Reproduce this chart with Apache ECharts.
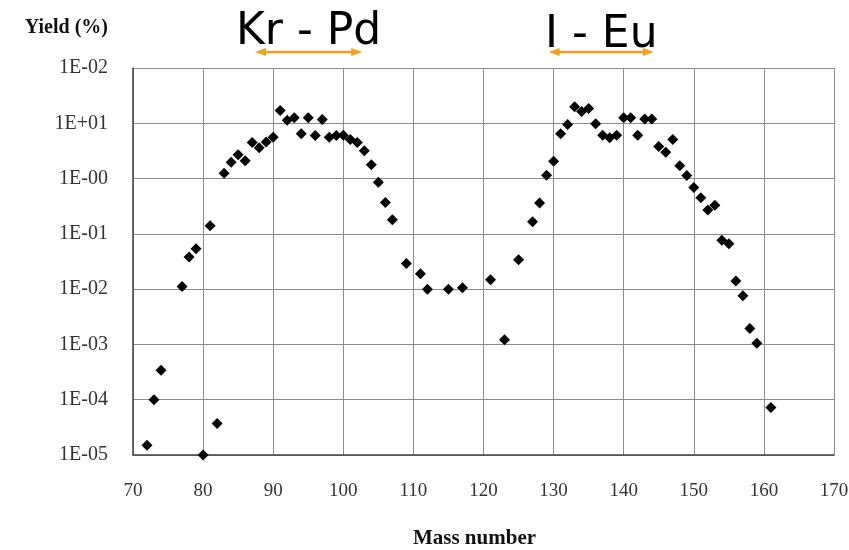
<!DOCTYPE html>
<html>
<head>
<meta charset="utf-8">
<script src="https://cdn.jsdelivr.net/npm/echarts@6/dist/echarts.min.js"></script>
<style>
html,body{margin:0;padding:0;background:#fff;}
#chart{width:849px;height:550px;}
</style>
</head>
<body>
<div id="chart"></div>
<script>
const massNumbers = [72,73,74,77,78,79,80,81,82,
  83,84,85,86,87,88,89,90,91,92,93,94,95,96,97,98,99,100,101,102,103,104,105,106,107,
  109,111,112,115,117,121,123,125,
  127,128,129,130,131,132,133,134,135,136,137,138,139,140,141,142,143,144,145,146,147,148,149,150,151,152,153,154,155,156,157,158,159,
  161];
const yields = [1.5e-5,1.0e-4,3.4e-4,0.0112,0.038,0.054,1.0e-5,0.14,3.7e-5,
  1.25,1.97,2.7,2.1,4.5,3.6,4.6,5.6,17,11.3,12.6,6.5,12.6,6.0,11.7,5.6,6.0,6.1,5.1,4.5,3.2,1.78,0.86,0.37,0.18,
  0.029,0.019,0.010,0.010,0.0106,0.0148,0.00122,0.034,
  0.166,0.36,1.15,2.05,6.5,9.5,20,16.4,18.6,9.8,6.1,5.5,6.1,12.6,12.6,6.1,11.9,11.9,3.8,3.0,5.1,1.7,1.14,0.69,0.45,0.27,0.33,0.077,0.066,0.014,0.0076,0.00195,0.00105,
  7.2e-5];
const yTickLabels = ['1E-05','1E-04','1E-03','1E-02','1E-01','1E-00','1E+01','1E-02'];
const xTicks = [70,80,90,100,110,120,130,140,150,160,170];
const ranges = [
  {label:'Kr - Pd', from:87.4, to:102.7},
  {label:'I - Eu', from:129.3, to:144.3}
];

const chart = echarts.init(document.getElementById('chart'));
const serif = 'Liberation Serif';
chart.setOption({
  animation:false,
  backgroundColor:'#fff',
  grid:{left:133, top:68, right:15, bottom:95, containLabel:false, outerBoundsMode:'none'},
  xAxis:{
    type:'value', min:xTicks[0], max:xTicks[xTicks.length-1], interval:10,
    name:'Mass number', nameLocation:'middle', nameGap:73,
    nameTextStyle:{fontFamily:serif, fontWeight:'bold', fontSize:21, color:'#111', padding:[0,18,0,0]},
    axisLine:{show:true, lineStyle:{color:'#444', width:1.5}},
    axisTick:{show:false},
    axisLabel:{fontFamily:serif, fontSize:19, color:'#333', margin:27},
    splitLine:{show:true, lineStyle:{color:'#8c8c8c', width:1}}
  },
  yAxis:{
    type:'log', logBase:10, min:1e-5, max:1e2, splitNumber:7,
    name:'Yield (%)', nameLocation:'end', nameGap:30,
    nameTextStyle:{fontFamily:serif, fontWeight:'bold', fontSize:20, color:'#111', align:'right', padding:[0,25,0,0]},
    axisLine:{show:true, lineStyle:{color:'#444', width:1.5}},
    axisTick:{show:false},
    axisLabel:{fontFamily:serif, fontSize:20, color:'#333', margin:25,
      formatter:function(v){const i=Math.round(Math.log10(v))+5; return yTickLabels[i]!==undefined?yTickLabels[i]:'';}},
    splitLine:{show:true, lineStyle:{color:'#8c8c8c', width:1}}
  },
  series:[{
    type:'scatter', symbol:'diamond', symbolSize:11, clip:false,
    itemStyle:{color:'#000', opacity:1},
    data:massNumbers.map((m,i)=>[m,yields[i]])
  }]
});

const g = [];
const arrowY = 52, arrowColor = '#f5a11c';
const textYs = [33, 36];
ranges.forEach((r, k)=>{
  const x1 = chart.convertToPixel({gridIndex:0}, [r.from, 1])[0];
  const x2 = chart.convertToPixel({gridIndex:0}, [r.to, 1])[0];
  const cx = (x1+x2)/2;
  g.push({type:'text', x:cx, y:textYs[k], style:{text:r.label, font:'44px "DejaVu Sans"', fill:'#000', align:'center', verticalAlign:'middle'}, z:10});
  g.push({type:'line', shape:{x1:x1+6, y1:arrowY, x2:x2-6, y2:arrowY}, style:{stroke:arrowColor, lineWidth:2.5}, z:11});
  g.push({type:'polygon', shape:{points:[[x1,arrowY],[x1+11,arrowY-4],[x1+11,arrowY+4]]}, style:{fill:arrowColor}, z:11});
  g.push({type:'polygon', shape:{points:[[x2,arrowY],[x2-11,arrowY-4],[x2-11,arrowY+4]]}, style:{fill:arrowColor}, z:11});
});
chart.setOption({graphic:g});
</script>
</body>
</html>
